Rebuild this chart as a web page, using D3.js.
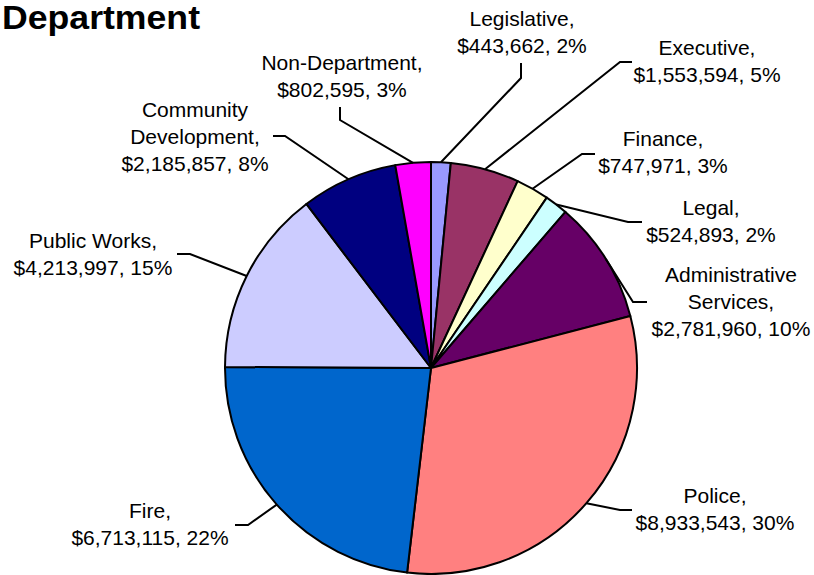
<!DOCTYPE html>
<html>
<head>
<meta charset="utf-8">
<script src="https://cdn.jsdelivr.net/npm/d3@7/dist/d3.min.js"></script>
<style>
  html, body { margin: 0; padding: 0; background: #ffffff; }
  svg { display: block; }
  text { font-family: "Liberation Sans", Arial, Helvetica, sans-serif; fill: #000; }
</style>
</head>
<body>
<svg id="chart" width="814" height="575"></svg>
<script>
// Expenditures by department
const categories = [
  "Legislative", "Executive", "Finance", "Legal", "Administrative Services",
  "Police", "Fire", "Public Works", "Community Development", "Non-Department"
];
const amounts = [443662, 1553594, 747971, 524893, 2781960, 8933543, 6713115, 4213997, 2185857, 802595];
const percentLabels = ["2%", "5%", "3%", "2%", "10%", "30%", "22%", "15%", "8%", "3%"];
const sliceColors = [
  "#9999FF", "#993366", "#FFFFCC", "#CCFFFF", "#660066",
  "#FF8080", "#0066CC", "#CCCCFF", "#000080", "#FF00FF"
];

// Label placement: text centre x, first baseline, name lines, and the leader's
// label-side end and elbow.
const labelLayout = [
  { x: 522, y: 26,  lines: ["Legislative,"],               end: [521, 63],  elbow: [521, 78] },
  { x: 707, y: 55,  lines: ["Executive,"],                 end: [632, 62],  elbow: [620, 62] },
  { x: 663, y: 146, lines: ["Finance,"],                   end: [595, 154], elbow: [582, 154] },
  { x: 711, y: 215, lines: ["Legal,"],                     end: [642, 222], elbow: [628, 222] },
  { x: 731, y: 282, lines: ["Administrative", "Services,"], end: [647, 302], elbow: [633, 302] },
  { x: 715, y: 503, lines: ["Police,"],                    end: [632, 510], elbow: [620, 510] },
  { x: 150, y: 518, lines: ["Fire,"],                      end: [235, 525], elbow: [248, 525] },
  { x: 93,  y: 248, lines: ["Public Works,"],              end: [177, 254], elbow: [190, 254] },
  { x: 195, y: 117, lines: ["Community", "Development,"],  end: [273, 136], elbow: [285, 136] },
  { x: 342, y: 70,  lines: ["Non-Department,"],            end: [340, 107], elbow: [340, 120] }
];

const svg = d3.select("#chart");
const cx = 431, cy = 368, radius = 206;
const lineStep = 27;

// Title
svg.append("text")
  .attr("x", 2)
  .attr("y", 29)
  .attr("textLength", 198)
  .attr("lengthAdjust", "spacingAndGlyphs")
  .style("font-size", "33px")
  .style("font-weight", "bold")
  .text("Department");

const pie = d3.pie().sort(null).value(d => d)
  .startAngle(0).endAngle(2 * Math.PI);
const arcs = pie(amounts);

const arc = d3.arc().innerRadius(0).outerRadius(radius);

const g = svg.append("g").attr("transform", `translate(${cx},${cy})`);

g.selectAll("path.slice")
  .data(arcs)
  .join("path")
  .attr("class", "slice")
  .attr("d", arc)
  .attr("fill", (d, i) => sliceColors[i])
  .attr("stroke", "#000")
  .attr("stroke-width", 2)
  .attr("stroke-linejoin", "round");

// Leader lines from each slice's outer edge (mid angle) to its label
const leader = d3.line();
svg.append("g").selectAll("path.leader")
  .data(arcs)
  .join("path")
  .attr("class", "leader")
  .attr("fill", "none")
  .attr("stroke", "#000")
  .attr("stroke-width", 2)
  .attr("d", (d, i) => {
    const mid = (d.startAngle + d.endAngle) / 2;
    const p = [cx + radius * Math.sin(mid), cy - radius * Math.cos(mid)];
    const L = labelLayout[i];
    return leader([p, L.elbow, L.end]);
  });

// Data labels: name, amount, percent
const money = d3.format("$,");
const labels = svg.append("g").selectAll("text.label")
  .data(arcs)
  .join("text")
  .attr("class", "label")
  .attr("text-anchor", "middle")
  .style("font-size", "21px");

labels.each(function (d, i) {
  const L = labelLayout[i];
  const t = d3.select(this);
  const lines = L.lines.concat([`${money(amounts[i])}, ${percentLabels[i]}`]);
  lines.forEach((s, k) => {
    t.append("tspan")
      .attr("x", L.x)
      .attr("y", L.y + k * lineStep)
      .text(s);
  });
});
</script>
</body>
</html>
